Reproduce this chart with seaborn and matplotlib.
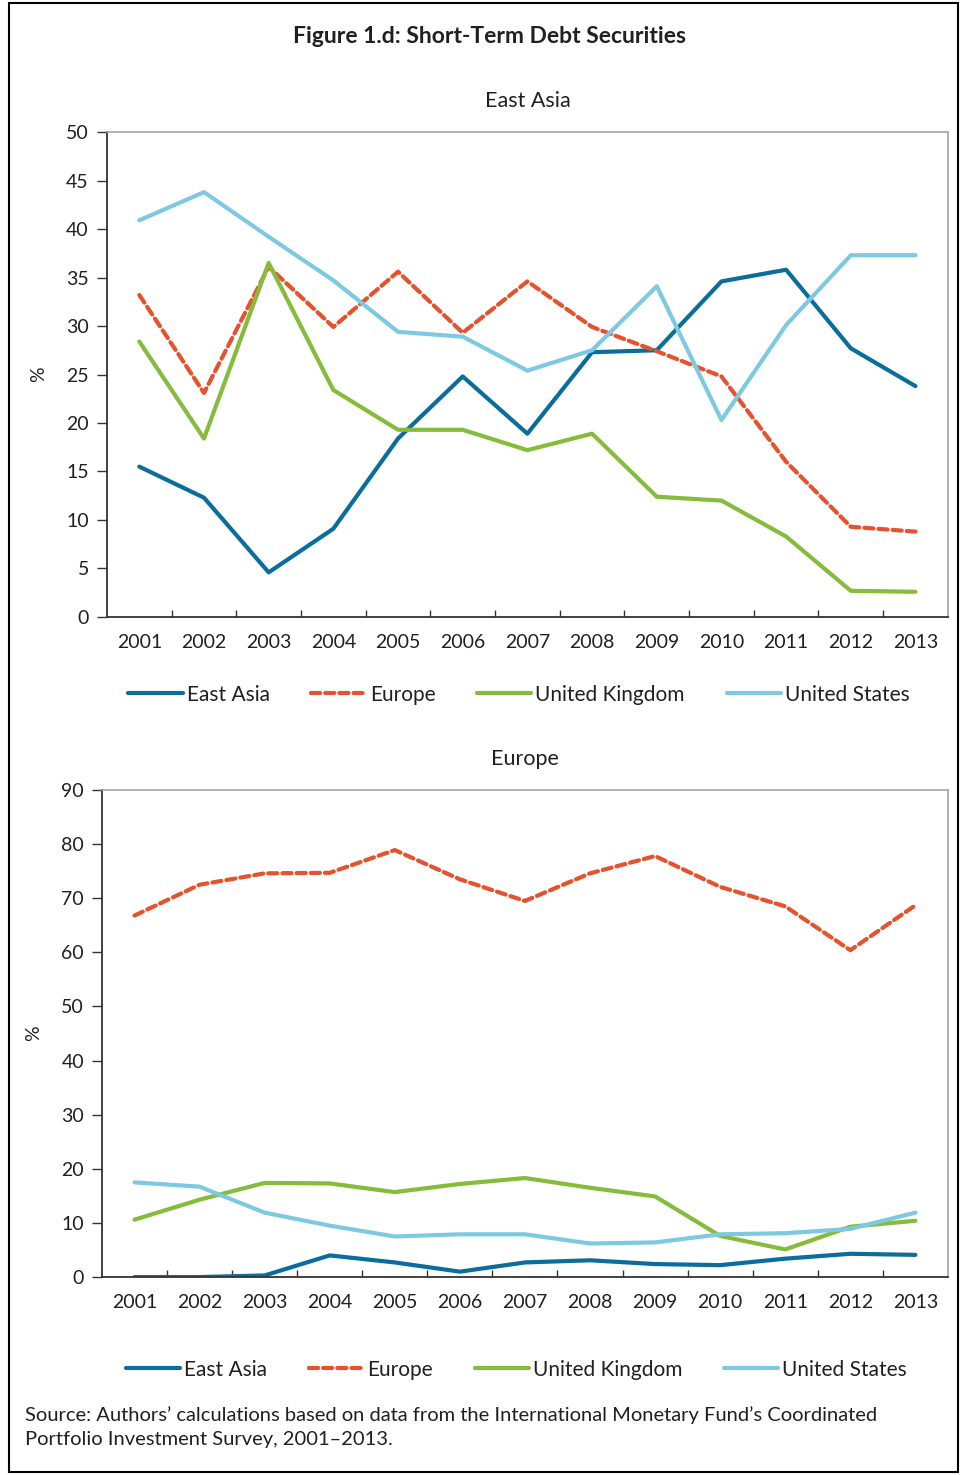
import numpy as np
import pandas as pd
import seaborn as sns
from matplotlib import pyplot as plt
from matplotlib.patches import Rectangle
from matplotlib.ticker import MultipleLocator

years = list(range(2001, 2014))
regions = ['East Asia', 'Europe', 'United Kingdom', 'United States']

# panel 1: holdings of East Asia
ea_east_asia = [15.5, 12.3, 4.6, 9.1, 18.4, 24.8, 18.9, 27.3, 27.5, 34.6, 35.8, 27.7, 23.8]
ea_europe = [33.2, 23.1, 36.1, 29.9, 35.6, 29.3, 34.6, 29.9, 27.4, 24.8, 16.0, 9.3, 8.8]
ea_uk = [28.4, 18.4, 36.5, 23.4, 19.3, 19.3, 17.2, 18.9, 12.4, 12.0, 8.3, 2.7, 2.6]
ea_us = [40.9, 43.8, 39.2, 34.7, 29.4, 28.9, 25.4, 27.5, 34.1, 20.3, 30.1, 37.3, 37.3]

# panel 2: holdings of Europe
eu_east_asia = [0.0, 0.0, 0.3, 4.0, 2.7, 1.0, 2.7, 3.1, 2.4, 2.2, 3.4, 4.3, 4.1]
eu_europe = [66.8, 72.5, 74.6, 74.7, 78.9, 73.5, 69.5, 74.6, 77.8, 72.1, 68.5, 60.4, 68.7]
eu_uk = [10.6, 14.3, 17.4, 17.3, 15.7, 17.2, 18.3, 16.5, 14.9, 7.6, 5.1, 9.3, 10.4]
eu_us = [17.5, 16.7, 11.9, 9.5, 7.5, 7.9, 7.9, 6.2, 6.4, 7.9, 8.1, 8.9, 11.9]

colors = {'East Asia': '#0a6d9b', 'Europe': '#e5532e',
          'United Kingdom': '#85bc3b', 'United States': '#7ec9e2'}
dashes = {'East Asia': '', 'Europe': (2.2, 1.2),
          'United Kingdom': '', 'United States': ''}


def long_frame(series):
    rows = []
    for name, vals in zip(regions, series):
        for yr, v in zip(years, vals):
            rows.append({'year': yr, 'value': v, 'region': name})
    return pd.DataFrame(rows)


sns.set_style('white')
plt.rcParams['font.family'] = ['Lato', 'DejaVu Sans']
text_col = '#231f20'

fig = plt.figure(figsize=(9.61, 14.75), dpi=100)
ax1 = fig.add_axes([0.1113, 0.5817, 0.875, 0.3288])
ax2 = fig.add_axes([0.1061, 0.1342, 0.8803, 0.3302])

panels = [
    (ax1, [ea_east_asia, ea_europe, ea_uk, ea_us], 'East Asia', 50, 5, -0.16),
    (ax2, [eu_east_asia, eu_europe, eu_uk, eu_us], 'Europe', 90, 10, -0.19),
]

for ax, series, title, ymax, step, leg_y in panels:
    df = long_frame(series)
    sns.lineplot(data=df, x='year', y='value', hue='region', style='region',
                 palette=colors, dashes=dashes, linewidth=3.0, ax=ax)
    for ln in ax.get_lines():
        ln.set_dash_capstyle('round')
        ln.set_solid_capstyle('round')
    ax.set_xlim(years[0] - 0.5, years[-1] + 0.5)
    ax.set_ylim(0, ymax)
    ax.yaxis.set_major_locator(MultipleLocator(step))
    ax.set_xticks(years)
    ax.set_xticklabels([str(y) for y in years])
    ax.set_xticks(np.arange(years[0] + 0.5, years[-1], 1.0), minor=True)
    ax.tick_params(axis='x', which='major', length=0, pad=12,
                   labelsize=14, labelcolor=text_col)
    ax.tick_params(axis='x', which='minor', direction='in', length=5,
                   width=1, color='#333333', bottom=True)
    ax.tick_params(axis='y', which='major', direction='out', length=7,
                   width=1, color='#333333', left=True, pad=6,
                   labelsize=14, labelcolor=text_col)
    for side in ['left', 'bottom']:
        ax.spines[side].set_color('#333333')
        ax.spines[side].set_linewidth(1.3)
    for side in ['top', 'right']:
        ax.spines[side].set_color('#a6a6a6')
        ax.spines[side].set_linewidth(1.2)
    ax.set_xlabel('')
    ax.set_ylabel('%', fontsize=14, color=text_col, labelpad=14)
    ax.set_title(title, fontsize=15.5, color=text_col, pad=18)
    handles, labels = ax.get_legend_handles_labels()
    ax.get_legend().remove()
    ax.legend(handles, labels, ncol=4, loc='center',
              bbox_to_anchor=(0.49, leg_y),
              frameon=False, fontsize=15, handlelength=2.6,
              handletextpad=0.2, columnspacing=2.0,
              labelcolor=text_col)

fig.text(0.509, 0.975, 'Figure 1.d: Short-Term Debt Securities',
         ha='center', va='center', fontsize=16.5, fontweight='bold',
         color=text_col)
fig.text(0.026, 0.0325,
         'Source: Authors\u2019 calculations based on data from the International '
         'Monetary Fund\u2019s Coordinated\nPortfolio Investment Survey, 2001\u20132013.',
         ha='left', va='center', fontsize=14.5, color=text_col,
         linespacing=1.5)

fig.patches.append(Rectangle((0.009, 0.002), 0.988, 0.996,
                             transform=fig.transFigure, fill=False,
                             edgecolor='black', linewidth=1.5))

fig.savefig('out.png', dpi=100)
